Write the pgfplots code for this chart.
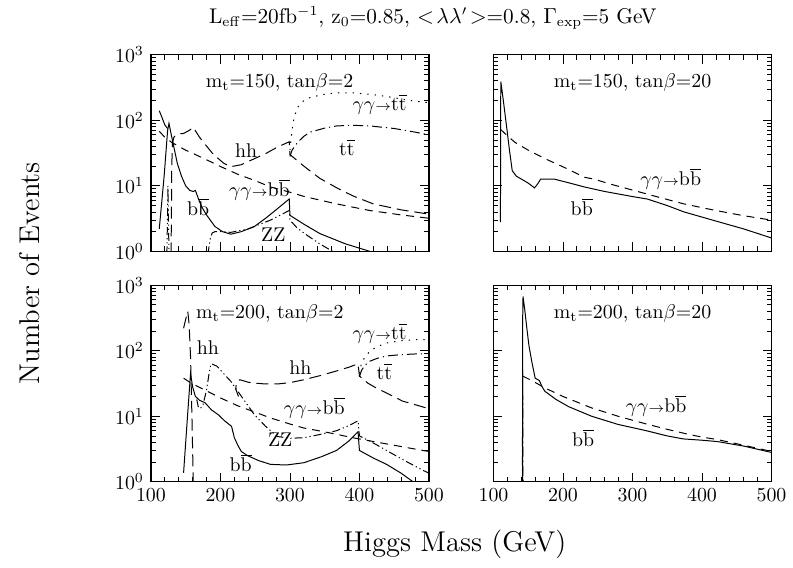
\documentclass[border=0pt]{standalone}
\usepackage{pgfplots}
\pgfplotsset{compat=1.18}
\usepgfplotslibrary{groupplots}
\usetikzlibrary{calc}

\newcommand{\bb}{$\mathrm{b\overline{b}}$}
\newcommand{\ttb}{$\mathrm{t\overline{t}}$}
\newcommand{\ggto}{$\gamma\gamma{\scriptstyle\rightarrow}$}

\tikzset{
  hhline/.style={dash pattern=on 6pt off 3pt},
  bbline/.style={dash pattern=on 4pt off 3pt},
  ttline/.style={dash pattern=on 5pt off 2pt on 0.6pt off 2pt},
  zzline/.style={dash pattern=on 4pt off 1.5pt on 0.6pt off 1.5pt on 0.6pt off 1.5pt},
  dotline/.style={dash pattern=on 0.7pt off 3pt},
}

\begin{document}
\begin{tikzpicture}
\begin{groupplot}[
  group style={group size=2 by 2, horizontal sep=32.5pt, vertical sep=17pt,
    xticklabels at=edge bottom, yticklabels at=edge left},
  scale only axis, width=140pt, height=99pt,
  xmin=100, xmax=500, ymin=1, ymax=1000, ymode=log,
  xtick={100,200,300,400,500}, minor x tick num=4,
  ytick={1,10,100,1000},
  tick align=inside, major tick length=4.5pt, minor tick length=2.5pt,
  axis line style={line width=0.6pt},
  every tick/.style={black, line width=0.4pt},
  cycle list={{black, solid}},
  every axis plot/.append style={no markers, black, line width=0.5pt},
  tick label style={font=\normalsize},
]
% ---- m_t=150, tan beta=2
\nextgroupplot
\addplot[solid] coordinates {(112,2.2) (119,14) (124,70) (126,90) (128,70) (133,39) (138,22) (144,14) (150,10) (156,8.5) (161,8.2) (164,8.5) (168,6.5) (173,4.8) (180,3.6) (192,2.4) (203,2.0) (215,1.83) (230,2.0) (249,2.4) (265,3.2) (280,4.3) (299,6.3) (300,3.55) (320,2.6) (343,1.87) (380,1.3) (415,1.0) (450,0.75) (500,0.5)};
\addplot[solid] coordinates {(112,140) (116,110) (120,85) (124,75)};
\addplot[hhline] coordinates {(129,0.9) (130,20) (131,45) (133,55) (136,60) (140,62) (147,63) (155,70) (161,78) (170,55) (178,43) (190,30) (197,26) (205,22) (215,19.6) (230,21) (249,26) (265,31) (282,39) (299,47) (300,30) (320,20) (343,13) (370,9) (391,7) (420,5.3) (460,4.3) (500,3.7)};
\addplot[bbline] coordinates {(112,68) (120,55) (130,46) (140,40) (150,35) (164,30) (180,25) (201,19.5) (225,15) (250,12) (272,9.6) (300,8) (320,6.9) (367,5.3) (415,4.2) (460,3.6) (500,3.2)};
\addplot[zzline] coordinates {(123,0.9) (124.5,10) (126,0.9)};
\addplot[zzline] coordinates {(182,0.9) (185,1.5) (188,1.9) (192,2.0) (200,2.0) (215,1.95) (240,2.2) (272,3.0) (299,4.2) (300,3.0) (310,2.3) (320,1.9) (343,1.3) (365,0.95)};
\addplot[dotline] coordinates {(300,35) (303,70) (306,110) (311,158) (320,200) (330,225) (350,250) (367,262) (390,262) (415,250) (440,230) (462,210) (480,195) (500,186)};
\addplot[ttline] coordinates {(300,28) (303,35) (311,46) (320,57) (329,66) (350,76) (367,82) (390,84) (415,82) (450,75) (480,66) (500,60)};
\node at (axis cs:285,380) {$\mathrm{m_t}$=150, tan$\beta$=2};
\node at (axis cs:237,35) {hh};
\node at (axis cs:256,8.7) {\ggto\bb};
\node at (axis cs:168,4.8) {\bb};
\node at (axis cs:276,1.8) {ZZ};
\node at (axis cs:429,174) {\ggto\ttb};
\node at (axis cs:382,39) {\ttb};
% ---- m_t=150, tan beta=20
\nextgroupplot
\addplot[solid] coordinates {(110,2.8) (110.5,390) (113,250) (116,140) (119,78) (123,35) (127,17) (133,14) (140,12.7) (150,11) (159,9.3) (163,10.5) (168,12.7) (187,12.7) (210,11) (231,9.6) (260,8.2) (302,6.8) (321,6.3) (350,5) (374,4) (420,2.9) (460,2.2) (500,1.6)};
\addplot[bbline] coordinates {(110,73) (120,58) (131,46) (150,35) (174,26) (200,19.5) (231,13.5) (244,12.7) (270,10.5) (302,8.5) (340,6.6) (374,5.3) (420,4.2) (460,3.5) (500,3.0)};
\node at (axis cs:300,380) {$\mathrm{m_t}$=150, tan$\beta$=20};
\node at (axis cs:355,12.7) {\ggto\bb};
\node at (axis cs:227,4.8) {\bb};
% ---- m_t=200, tan beta=2
\nextgroupplot
\addplot[solid] coordinates {(147,1.37) (152,8) (157,45) (160,28) (164,20) (170,17.5) (178,16) (187,12.5) (197,10.5) (206,8.5) (216,7) (220,4.7) (225,3.6) (230,2.9) (239,2.5) (255,2.1) (272,1.84) (295,1.8) (320,1.95) (345,2.4) (367,3.0) (385,4.2) (398,5.8) (400,3.0) (420,2.3) (439,1.84) (460,1.35) (477,1.0) (500,0.75)};
\addplot[hhline] coordinates {(147,220) (150,300) (153,400) (155,250) (157,80) (159,10) (161,0.9)};
\addplot[hhline] coordinates {(226,20) (222,26) (223,32) (228,36) (240,33) (249,32) (265,31) (282,31) (300,32.5) (320,36) (345,42) (367,49) (385,56) (398,63) (400,41) (412,32) (424,27) (445,21) (462,17) (480,15) (500,13)};
\addplot[bbline] coordinates {(147,38) (160,31) (178,25) (200,19) (225,14.4) (250,11.5) (272,9.4) (300,7.6) (320,6.6) (345,5.9) (367,5.3) (390,4.7) (415,4.2) (450,3.6) (491,3.0) (500,2.9)};
\addplot[zzline] coordinates {(166,18) (168,14) (171,13) (175,15) (180,25) (185,55) (187,63) (195,58) (206,43) (215,34) (225,24) (235,17) (249,10.5) (265,7) (282,4.9) (300,4.6) (320,4.7) (345,5.3) (367,6.0) (385,7.2) (398,8.5) (400,5) (405,4.7) (420,3.9) (439,3.0) (465,2.1) (491,1.5) (500,1.35)};
\addplot[dotline] coordinates {(400,45) (403,65) (408,80) (415,98) (425,115) (439,131) (460,142) (480,147) (500,148)};
\addplot[ttline] coordinates {(400,40) (403,50) (408,60) (415,69) (425,76) (439,83) (460,87) (480,89) (500,90)};
\node at (axis cs:271,372) {$\mathrm{m_t}$=200, tan$\beta$=2};
\node at (axis cs:182,110) {hh};
\node at (axis cs:315,55) {hh};
\node at (axis cs:429,186) {\ggto\ttb};
\node at (axis cs:436,49) {\ttb};
\node at (axis cs:335,13.4) {\ggto\bb};
\node at (axis cs:286,4.4) {ZZ};
\node at (axis cs:229,1.95) {\bb};
% ---- m_t=200, tan beta=20
\nextgroupplot
\addplot[solid] coordinates {(142,0.9) (142,300) (142.5,670) (145,420) (148,220) (151,120) (155,69) (160,38) (163,36.5) (166,35) (170,28) (174,24) (190,18) (208,14) (241,10) (279,7.5) (320,6) (350,5) (373,4.5) (400,4.3) (422,4.1) (460,3.5) (500,2.8)};
\addplot[bbline] coordinates {(142,41) (155,35) (174,27) (200,20) (241,13.4) (279,10) (320,7.6) (350,6.3) (380,5.3) (400,4.8) (422,4.4) (460,3.6) (500,2.9)};
\addplot[ttline] coordinates {(141.5,0.9) (142,50) (142.5,0.9)};
\node at (axis cs:300,372) {$\mathrm{m_t}$=200, tan$\beta$=20};
\node at (axis cs:334,14.4) {\ggto\bb};
\node at (axis cs:229,4.7) {\bb};
\end{groupplot}
\path ($(group c1r1.north west)+(-76pt,27.5pt)$) rectangle ($(group c1r1.north west)+(320.5pt,-258pt)$);
\node at ($(group c1r1.north west)+(142pt,18.5pt)$) {\fontsize{10.7}{13}\selectfont L$_{\mathrm{eff}}$=20fb$^{-1}$, z$_0$=0.85, $<\!\lambda\lambda'\!>$=0.8, $\Gamma_{\mathrm{exp}}$=5 GeV};
\node[rotate=90] at ($(group c1r1.north west)+(-61pt,-110pt)$) {\Large Number of Events};
\node at ($(group c1r1.north west)+(153pt,-246.5pt)$) {\Large Higgs Mass (GeV)};
\end{tikzpicture}
\end{document}
